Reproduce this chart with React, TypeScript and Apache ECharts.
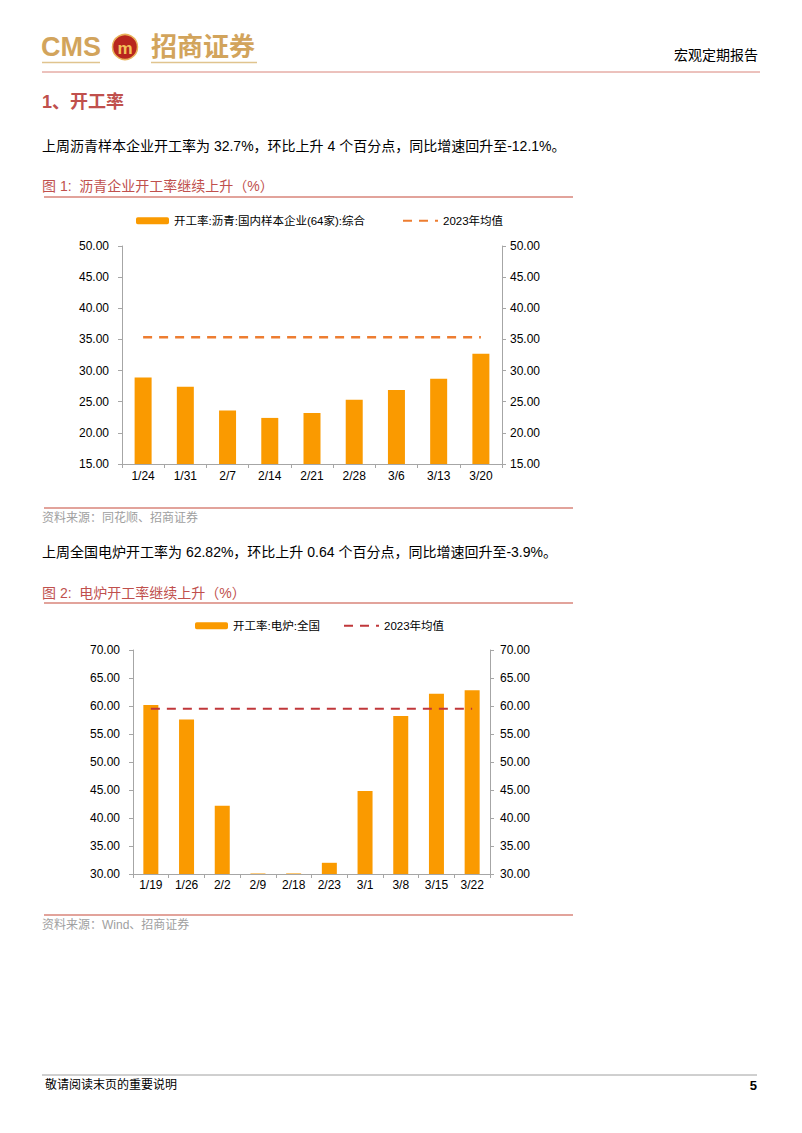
import React, { useEffect, useRef } from "react";
import * as echarts from "echarts";

const cats1 = ["1/24", "1/31", "2/7", "2/14", "2/21", "2/28", "3/6", "3/13", "3/20"];
const rate1 = [28.9, 27.4, 23.6, 22.4, 23.2, 25.3, 26.9, 28.7, 32.7];
const avg1 = 35.35;

const cats2 = ["1/19", "1/26", "2/2", "2/9", "2/18", "2/23", "3/1", "3/8", "3/15", "3/22"];
const rate2 = [60.2, 57.6, 42.2, 30.1, 30.1, 32.0, 44.8, 58.2, 62.18, 62.82];
const avg2 = 59.5;

const name1 = "开工率:沥青:国内样本企业(64家):综合";
const name2 = "开工率:电炉:全国";
const avgName = "2023年均值";
const avgName2 = "2023年均值(电炉)";

const FONT = '"Liberation Sans", Arial, "Noto Sans CJK SC", sans-serif';
const RED = "#C0504D";
const GOLD = "#D2A45C";
const BAR = "#FA9A00";

export default function App() {
  const ref = useRef<HTMLDivElement>(null);
  useEffect(() => {
    const chart = echarts.init(ref.current!, null, { renderer: "svg" });
    const axisLine = { show: true, lineStyle: { color: "#A6A6A6", width: 1 } };
    const axisTick = { show: true, length: 4, lineStyle: { color: "#A6A6A6" } };
    const fmt = (v: number) => v.toFixed(2);
    const txt = (text: string, x: number, y: number, size: number, fill: string, extra: any = {}) => ({
      type: "text",
      style: {
        text,
        x,
        y,
        fill,
        font: `${extra.weight || "normal"} ${size}px ${FONT}`,
        align: extra.align || "left",
        verticalAlign: "middle",
      },
    });
    const ln = (x1: number, y1: number, x2: number, y2: number, stroke: string, w = 1) => ({
      type: "line",
      shape: { x1, y1, x2, y2 },
      style: { stroke, lineWidth: w },
    });

    const yBase = (gi: number, min: number, max: number, pos: string, margin: number) => ({
      type: "value",
      gridIndex: gi,
      min,
      max,
      interval: 5,
      position: pos,
      axisLine,
      axisTick,
      splitLine: { show: false },
      axisLabel: { formatter: fmt, color: "#000", fontSize: 12, fontFamily: FONT, margin },
    });
    const legText = { fontSize: 11.5, color: "#000", fontFamily: FONT };
    const hideSym = { color: "transparent", borderWidth: 0, opacity: 0 };

    chart.setOption({
      animation: false,
      textStyle: { fontFamily: FONT },
      grid: [
        { left: 122, top: 246, width: 380, height: 218, containLabel: false },
        { left: 133, top: 650, width: 357, height: 224, containLabel: false },
      ],
      legend: [
        { data: [name1], left: 131, top: 210, itemWidth: 33, itemHeight: 7, textStyle: legText },
        { data: [avgName], left: 397, top: 210, itemWidth: 35, itemHeight: 7, textStyle: legText, itemStyle: hideSym },
        { data: [name2], left: 190, top: 615, itemWidth: 33, itemHeight: 7, textStyle: legText },
        { data: [avgName2], left: 338, top: 615, itemWidth: 35, itemHeight: 7, textStyle: legText, itemStyle: hideSym, formatter: () => avgName },
      ],
      xAxis: [
        { type: "category", gridIndex: 0, data: cats1, axisLine, axisTick, axisLabel: { color: "#000", fontSize: 12, fontFamily: FONT, margin: 6 } },
        { type: "category", gridIndex: 1, data: cats2, axisLine, axisTick, axisLabel: { color: "#000", fontSize: 12, fontFamily: FONT, margin: 5, interval: 0 } },
      ],
      yAxis: [
        yBase(0, 15, 50, "left", 13),
        yBase(0, 15, 50, "right", 8),
        yBase(1, 30, 70, "left", 13),
        yBase(1, 30, 70, "right", 10),
      ],
      series: [
        { name: name1, type: "bar", xAxisIndex: 0, yAxisIndex: 0, data: rate1, barWidth: 17, itemStyle: { color: BAR } },
        {
          name: avgName,
          type: "line",
          xAxisIndex: 0,
          yAxisIndex: 0,
          data: cats1.map(() => avg1),
          symbol: "none",
          lineStyle: { color: "#ED7D31", width: 2.5, type: [9, 7] },
          itemStyle: { color: "#ED7D31" },
        },
        { name: name2, type: "bar", xAxisIndex: 1, yAxisIndex: 2, data: rate2, barWidth: 15, itemStyle: { color: BAR } },
        {
          name: avgName2,
          type: "line",
          xAxisIndex: 1,
          yAxisIndex: 2,
          data: cats2.map(() => avg2),
          symbol: "none",
          lineStyle: { color: "#C0373A", width: 2, type: [9, 7] },
          itemStyle: { color: "#C0373A" },
        },
      ],
      graphic: [
        // header
        txt("CMS", 41, 47, 27, GOLD, { weight: "bold" }),
        { type: "circle", shape: { cx: 125, cy: 47, r: 12.5 }, style: { fill: "#B8261E", stroke: "#E9B25A", lineWidth: 1.5 } },
        txt("m", 125, 48, 17, "#F3C35A", { weight: "bold", align: "center" }),
        txt("招商证券", 151, 47, 26, GOLD, { weight: "bold" }),
        ln(42, 62.5, 100, 62.5, "#E0C48E", 1.5),
        ln(151, 62.5, 257, 62.5, "#E0C48E", 1.5),
        ln(42, 72, 760, 72, "#D9847A", 1),
        txt("宏观定期报告", 758, 55, 14, "#000", { align: "right" }),
        // section
        txt("1、开工率", 42, 102, 18, RED, { weight: "bold" }),
        txt("上周沥青样本企业开工率为 32.7%，环比上升 4 个百分点，同比增速回升至-12.1%。", 42, 146, 14, "#000"),
        txt("图 1:  沥青企业开工率继续上升（%）", 42, 186, 14, RED),
        ln(44, 197, 573, 197, "#D9847A", 1.5),
        ln(44, 508, 573, 508, "#D9847A", 1.5),
        txt("资料来源：同花顺、招商证券", 42, 518, 12, "#A0A0A0"),
        txt("上周全国电炉开工率为 62.82%，环比上升 0.64 个百分点，同比增速回升至-3.9%。", 42, 552, 14, "#000"),
        txt("图 2:  电炉开工率继续上升（%）", 42, 593, 14, RED),
        ln(44, 603, 573, 603, "#D9847A", 1.5),
        ln(44, 915, 573, 915, "#D9847A", 1.5),
        txt("资料来源：Wind、招商证券", 42, 925, 12, "#A0A0A0"),
        // footer
        ln(42, 1075, 757, 1075, "#A0A0A0", 1),
        txt("敬请阅读末页的重要说明", 45, 1085, 12, "#000"),
        txt("5", 757, 1085, 13, "#000", { weight: "bold", align: "right" }),
      ],
    });
    return () => chart.dispose();
  }, []);
  return (
    <div
      ref={ref}
      style={{ position: "absolute", left: 0, top: 0, width: 802, height: 1133, background: "#fff" }}
    />
  );
}
